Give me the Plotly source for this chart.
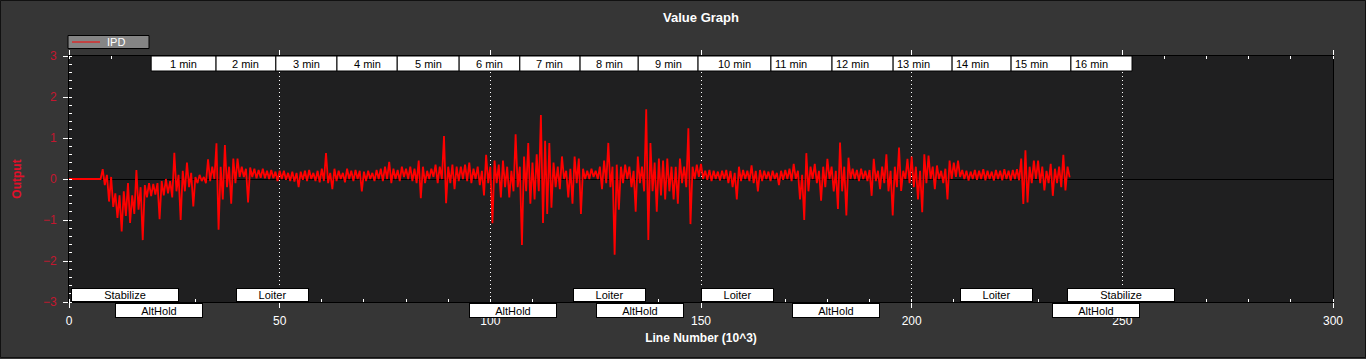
import plotly.graph_objects as go

# ---------------- data ----------------
# line number (10^3) of each envelope sample; each sample has a high and a low value
sample_index = list(range(238))
ipd_high = [
    0, 0, 0, 0, 0, 0, 0, 0, 0.24, 0.1,
    0.05, -0.35, -0.4, -0.3, -0.1, -0.4, 0.22, -0.2, -0.15, -0.1,
    -0.12, -0.1, -0.05, 0.0, -0.05, 0.64, 0.1, 0.2, 0.4, 0.15,
    0.05, 0.1, 0.05, 0.48, 0.3, 0.87, 0.3, 0.83, 0.3, 0.5,
    0.5, 0.3, 0.25, 0.28, 0.25, 0.22, 0.25, 0.2, 0.22, 0.18,
    0.2, 0.2, 0.15, 0.18, 0.15, 0.18, 0.2, 0.22, 0.15, 0.2,
    0.25, 0.63, 0.15, 0.25, 0.2, 0.15, 0.25, 0.2, 0.22, 0.2,
    0.18, 0.2, 0.15, 0.22, 0.25, 0.3, 0.42, 0.25, 0.22, 0.3,
    0.25, 0.3, 0.25, 0.45, 0.3, 0.2, 0.25, 0.35, 0.3, 1.05,
    0.3, 0.35, 0.3, 0.3, 0.35, 0.4, 0.25, 0.3, 0.2, 0.59,
    0.3, 0.45, 0.35, 0.45, 0.3, 0.2, 1.09, 0.3, 0.55, 0.88,
    0.4, 0.6, 1.56, 0.93, 0.88, 0.4, 0.3, 0.55, 0.2, 0.25,
    0.55, 0.5, 0.25, 0.2, 0.25, 0.2, 0.3, 0.45, 0.88, 0.3,
    0.35, 0.3, 0.35, 0.3, 0.2, 0.55, 0.3, 1.70, 0.88, 0.4,
    0.5, 0.45, 0.5, 0.3, 0.3, 0.5, 0.3, 1.24, 0.3, 0.35,
    0.37, 0.2, 0.22, 0.2, 0.18, 0.2, 0.22, 0.2, 0.15, 0.3,
    0.22, 0.2, 0.33, 0.2, 0.22, 0.2, 0.18, 0.2, 0.15, 0.2,
    0.22, 0.25, 0.37, 0.2, 0.1, 0.63, 0.3, 0.37, 0.2, 0.3,
    0.49, 0.3, 0.2, 0.89, 0.3, 0.52, 0.25, 0.22, 0.25, 0.2,
    0.22, 0.49, 0.2, 0.3, 0.6, 0.2, 0.3, 0.77, 0.2, 0.49,
    0.55, 0.3, 0.2, 0.6, 0.57, 0.3, 0.33, 0.2, 0.25, 0.45,
    0.4, 0.45, 0.22, 0.2, 0.18, 0.22, 0.2, 0.24, 0.2, 0.18,
    0.22, 0.2, 0.24, 0.2, 0.22, 0.24, 0.5, 0.7, 0.3, 0.45,
    0.45, 0.3, 0.2, 0.37, 0.25, 0.3, 0.59, 0.3,
]
ipd_low = [
    0, 0, 0, 0, 0, 0, 0, 0, -0.15, -0.55,
    -0.68, -0.95, -1.28, -0.9, -1.07, -0.85, -0.75, -1.49, -0.45, -0.42,
    -0.38, -0.98, -0.4, -0.35, -0.45, -0.3, -1.0, -0.3, -0.2, -0.67,
    -0.1, -0.05, -0.1, -0.05, 0.0, -1.24, -0.5, -0.2, -0.6, -0.1,
    0.05, 0.05, -0.57, 0.05, 0.02, 0.03, 0.02, 0.0, 0.02, -0.05,
    0.0, -0.02, -0.05, -0.06, -0.2, -0.02, -0.05, 0.0, -0.05, -0.08,
    -0.05, -0.1, -0.25, -0.05, 0.0, -0.08, 0.0, -0.05, 0.0, -0.3,
    -0.05, 0.0, -0.05, 0.0, -0.05, 0.0, -0.1, 0.0, -0.05, 0.05,
    0.0, -0.05, -0.1, -0.47, -0.1, 0.0, 0.05, -0.1, 0.0, -0.59,
    -0.1, -0.25, -0.05, 0.0, -0.05, -0.1, 0.0, -0.15, -0.4, -0.1,
    -1.08, -0.1, -0.45, -0.2, -0.45, -0.3, -0.2, -1.61, -0.3, -0.6,
    -0.5, -0.3, -1.07, -0.85, -0.7, -0.2, -0.25, 0.0, -0.45, -0.6,
    -0.1, -0.85, 0.0, 0.0, 0.05, 0.0, -0.25, -0.1, -0.2, -1.85,
    -0.75, -0.1, 0.0, -0.2, -0.8, -0.1, -0.3, -1.49, -0.3, -0.8,
    -0.4, -0.5, -0.3, -0.5, -0.6, -0.1, -0.2, -1.1, 0.0, 0.05,
    0.0, -0.02, -0.05, 0.0, -0.04, 0.0, -0.1, -0.2, -0.5, -0.05,
    0.0, -0.05, -0.1, -0.3, -0.05, 0.0, -0.05, 0.0, -0.15, -0.02,
    0.0, -0.05, 0.0, -0.5, -1.0, -0.3, 0.0, -0.1, -0.53, -0.2,
    0.0, -0.3, -0.73, -0.3, -0.89, 0.0, 0.0, -0.05, 0.0, -0.05,
    -0.41, -0.05, -0.25, -0.1, -0.3, -0.89, -0.2, -0.29, 0.0, -0.1,
    -0.2, -0.5, -0.81, -0.1, 0.0, -0.25, 0.0, -0.1, -0.5, 0.0,
    0.05, 0.05, 0.0, -0.04, 0.0, -0.02, 0.0, -0.03, 0.0, -0.04,
    0.0, -0.03, 0.0, -0.04, 0.0, -0.03, -0.61, -0.57, -0.1, 0.0,
    -0.1, -0.28, -0.1, -0.41, -0.1, -0.2, -0.28, 0.04,
]

minute_marks = [19.5, 34.9, 49.1, 63.6, 77.9, 92.6, 107.0, 121.3, 135.1,
                149.3, 166.6, 181.1, 195.6, 209.6, 223.6, 237.8, 252.3]
minute_labels = ["1 min", "2 min", "3 min", "4 min", "5 min", "6 min", "7 min",
                 "8 min", "9 min", "10 min", "11 min", "12 min", "13 min",
                 "14 min", "15 min", "16 min"]

mode_names = ["Stabilize", "AltHold", "Loiter", "AltHold", "Loiter", "AltHold",
              "Loiter", "AltHold", "Loiter", "AltHold", "Stabilize"]
mode_starts = [0.5, 10.9, 39.6, 94.9, 119.6, 125.1, 150.0, 171.6, 211.5, 233.3, 236.9]

x_ticks = [0, 50, 100, 150, 200, 250, 300]
y_ticks = [-3, -2, -1, 0, 1, 2, 3]
series_name = "IPD"

# ---------------- layout constants ----------------
W, H = 1366, 359
ML, MR, MT, MB = 69, 33, 56, 57
PW, PH = W - ML - MR, H - MT - MB
FONT = "Liberation Sans, Arial, sans-serif"
PAPER_BG = "#363636"
PLOT_BG = "#1f1f20"
RED = "#ff0000"
TICK_RED = "#c4162f"
MODE_BOX_W = {"Stabilize": 106, "AltHold": 86, "Loiter": 71}


def px_x(p):
    return (p - ML) / PW


def px_y(p):
    return (H - MB - p) / PH


xs, ys = [], []
for k, hi, lo in zip(sample_index, ipd_high, ipd_low):
    xs += [k, k + 0.5]
    ys += [hi, lo]

fig = go.Figure()
fig.add_trace(go.Scatter(x=xs, y=ys, mode="lines", name=series_name,
                         line=dict(color=RED, width=1.8), showlegend=False))

shapes = []
annotations = []

# minute boxes along the top
for i, lab in enumerate(minute_labels):
    x0, x1 = minute_marks[i], minute_marks[i + 1]
    shapes.append(dict(type="rect", xref="x", yref="paper", x0=x0, x1=x1,
                       y0=1 - 15 / PH, y1=1, fillcolor="white",
                       line=dict(color="black", width=1), layer="above"))
    if i < 10:
        annotations.append(dict(x=(x0 + x1) / 2, xref="x", xanchor="center",
                                y=1 - 7.5 / PH, yref="paper", yanchor="middle",
                                text=lab, showarrow=False,
                                font=dict(family=FONT, size=11, color="black")))
    else:
        annotations.append(dict(x=x0, xref="x", xanchor="left", xshift=2,
                                y=1 - 7.5 / PH, yref="paper", yanchor="middle",
                                text=lab, showarrow=False,
                                font=dict(family=FONT, size=11, color="black")))

# flight-mode boxes along the bottom (alternating rows)
for i, (name, start) in enumerate(zip(mode_names, mode_starts)):
    top_row = (i % 2 == 0)
    annotations.append(dict(x=start, xref="x", xanchor="left",
                            y=0, yref="paper",
                            yanchor="bottom" if top_row else "top",
                            yshift=0 if top_row else -1,
                            text=name, showarrow=False,
                            width=MODE_BOX_W[name], height=12 if top_row else 13,
                            bgcolor="white", bordercolor="black", borderwidth=1,
                            borderpad=0, align="center", valign="middle",
                            font=dict(family=FONT, size=11, color="black")))

# custom legend box
shapes.append(dict(type="rect", xref="paper", yref="paper",
                   x0=px_x(68), x1=px_x(149), y0=px_y(48.5), y1=px_y(35.5),
                   fillcolor="#858585", line=dict(color="black", width=1),
                   layer="above"))
shapes.append(dict(type="line", xref="paper", yref="paper",
                   x0=px_x(72), x1=px_x(100), y0=px_y(42), y1=px_y(42),
                   line=dict(color=RED, width=1), layer="above"))
annotations.append(dict(x=px_x(105), xref="paper", xanchor="left",
                        y=px_y(42), yref="paper", yanchor="middle",
                        text=series_name, showarrow=False,
                        font=dict(family=FONT, size=11, color="white")))

# outer frame of the chart
shapes.append(dict(type="rect", xref="paper", yref="paper",
                   x0=px_x(0.5), x1=px_x(1365.5), y0=px_y(357.5), y1=px_y(0.5),
                   line=dict(color="#111111", width=1), layer="above"))

fig.update_layout(
    width=W, height=H,
    margin=dict(l=ML, r=MR, t=MT, b=MB, pad=0),
    paper_bgcolor=PAPER_BG, plot_bgcolor=PLOT_BG,
    font=dict(family=FONT, size=12, color="white"),
    title=dict(text="<b>Value Graph</b>", x=0.5, xref="paper", xanchor="center",
               y=1 - 17 / H, yref="container", yanchor="middle",
               font=dict(family=FONT, size=13, color="white")),
    showlegend=False,
    shapes=shapes,
    annotations=annotations,
)

fig.update_xaxes(
    range=[0, 300], tickmode="array", tickvals=x_ticks,
    showgrid=True, gridcolor="white", gridwidth=1, griddash="1px,3px",
    zeroline=False, showline=True, linecolor="black", linewidth=1, mirror="ticks",
    ticks="outside", ticklen=5, tickcolor="white", tickwidth=1,
    minor=dict(dtick=10, tick0=0, ticks="inside", ticklen=3, tickcolor="white",
               showgrid=False),
    tickfont=dict(family=FONT, size=12, color="white"),
    ticklabelstandoff=3,
    title=dict(text="<b>Line Number (10^3)</b>", standoff=6,
               font=dict(family=FONT, size=12, color="white")),
    layer="above traces",
)
fig.update_yaxes(
    range=[-3, 3], tickmode="array", tickvals=y_ticks,
    showgrid=False, zeroline=True, zerolinecolor="black", zerolinewidth=1,
    showline=True, linecolor="black", linewidth=1, mirror=True,
    ticks="outside", ticklen=5, tickcolor="white", tickwidth=1,
    minor=dict(dtick=0.2, tick0=0, ticks="inside", ticklen=3, tickcolor="white",
               showgrid=False),
    tickfont=dict(family=FONT, size=12, color=TICK_RED),
    ticklabelstandoff=4,
    title=dict(text="<b>Output</b>", standoff=18,
               font=dict(family=FONT, size=12, color="#e0102a")),
    layer="above traces",
)

fig.write_html("out.html",
               config={"displayModeBar": False},
               post_script="document.body.style.margin='0';"
                           "document.body.style.overflow='hidden';")
